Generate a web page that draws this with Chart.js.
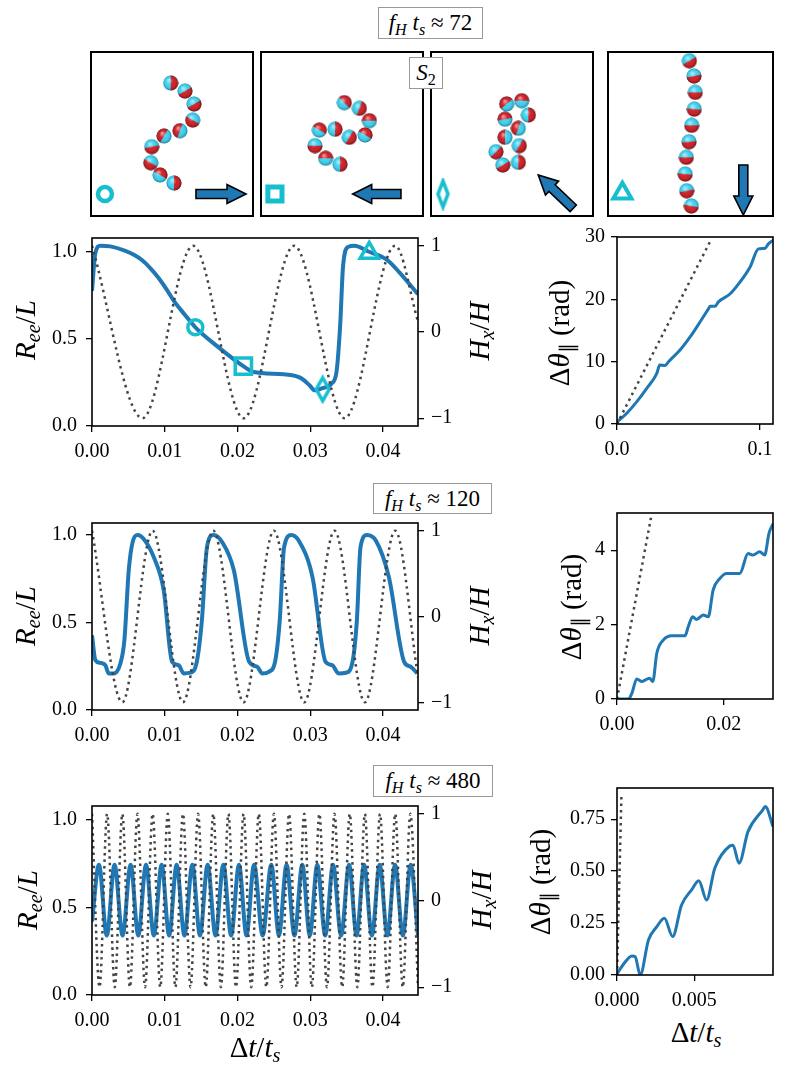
<!DOCTYPE html>
<html>
<head>
<meta charset="utf-8">
<script src="https://cdn.jsdelivr.net/npm/chart.js@4.4.0/dist/chart.umd.min.js"></script>
<style>
  body { margin: 0; background: #fff; width: 789px; height: 1079px; position: relative; overflow: hidden; font-family: 'Liberation Serif', serif; }
  canvas { position: absolute; }
  .lab { position: absolute; white-space: nowrap; font-size: 29px; transform: translate(-50%, -50%); line-height: 1; }
  .rot { transform: translate(-50%, -50%) rotate(-90deg); }
  .box { position: absolute; box-sizing: border-box; border: 1px solid #999; background: #fff; font-size: 23px;
         display: flex; align-items: center; justify-content: center; white-space: nowrap; z-index: 5; }
  sub { font-size: 0.7em; vertical-align: -0.28em; line-height: 0; }
</style>
</head>
<body>
<script>
// ---- data ----

// row 1, f_H t_s ~ 72
const r1T = [0, 0.00046, 0.00114, 0.0025, 0.0045, 0.0057, 0.0069, 0.008, 0.0091, 0.0102, 0.0112, 0.0127, 0.0142, 0.0171, 0.021, 0.0222, 0.0263, 0.0286, 0.0299, 0.0306, 0.0315, 0.0329, 0.0336, 0.0341, 0.0345, 0.0352, 0.0361, 0.0379, 0.0405, 0.0423, 0.0448];
const r1R = [0.776, 0.994, 1.036, 1.032, 1.008, 0.985, 0.952, 0.907, 0.853, 0.788, 0.722, 0.642, 0.567, 0.462, 0.338, 0.31, 0.297, 0.278, 0.234, 0.205, 0.215, 0.243, 0.31, 0.576, 0.918, 1.029, 1.036, 1.004, 0.956, 0.88, 0.757];
const h1T = [0, 0.00694, 0.01389, 0.02083, 0.02778, 0.03472, 0.04167, 0.0448];
const h1V = [1, -1, 1, -1, 1, -1, 1, 0.12];
const mark1T = [0.0142, 0.0208, 0.0317, 0.0381];
const mark1R = [0.567, 0.344, 0.211, 0.994];
const d1T = [0, 0.007, 0.014, 0.0209, 0.0279, 0.0298, 0.0337, 0.036, 0.0442, 0.0512, 0.0581, 0.064, 0.0651, 0.0686, 0.0709, 0.0791, 0.086, 0.093, 0.0988, 0.1035, 0.1058, 0.1093];
const d1V = [0.3, 1.76, 3.62, 5.75, 8.15, 9.48, 9.38, 10.0, 11.9, 14.0, 16.4, 18.5, 18.9, 18.9, 19.6, 20.9, 22.8, 25.2, 28.1, 28.2, 28.9, 29.5];
const f1T = [0, 0.0651];
const f1V = [0, 29.3];

// row 2, f_H t_s ~ 120
const r2T = [0, 0.00046, 0.00115, 0.00183, 0.00229, 0.00298, 0.0039, 0.00445, 0.00505, 0.00564, 0.00628, 0.00711, 0.00849, 0.00986, 0.011, 0.0119, 0.0126, 0.0135, 0.0144, 0.0151, 0.0158, 0.0167, 0.0179, 0.0195, 0.0216, 0.0227, 0.0234, 0.0243, 0.0252, 0.0258, 0.0264, 0.0274, 0.0284, 0.0303, 0.0321, 0.033, 0.0339, 0.0349, 0.0358, 0.0364, 0.0369, 0.0378, 0.039, 0.0408, 0.0429, 0.0438, 0.0447];
const r2R = [0.427, 0.285, 0.269, 0.256, 0.209, 0.209, 0.266, 0.398, 0.797, 0.968, 1.0, 0.977, 0.873, 0.683, 0.275, 0.256, 0.209, 0.213, 0.275, 0.512, 0.93, 1.0, 0.958, 0.797, 0.275, 0.247, 0.209, 0.218, 0.285, 0.512, 0.93, 1.0, 0.968, 0.759, 0.275, 0.256, 0.209, 0.213, 0.275, 0.512, 0.93, 1.0, 0.968, 0.759, 0.275, 0.247, 0.209];
const h2T = [0, 0.00417, 0.00833, 0.0125, 0.01667, 0.02083, 0.025, 0.02917, 0.03333, 0.0375, 0.04167, 0.0448];
const h2V = [1, -1, 1, -1, 1, -1, 1, -1, 1, -1, 1, -0.71];
const d2T = [0, 0.00217, 0.0028, 0.0037, 0.00466, 0.00609, 0.0067, 0.00745, 0.0087, 0.01025, 0.01273, 0.01335, 0.01416, 0.0149, 0.01615, 0.01708, 0.018, 0.01925, 0.0205, 0.02298, 0.02453, 0.02547, 0.02671, 0.02764, 0.02845, 0.02919];
const d2V = [0, 0, 0.16, 0.54, 0.47, 0.56, 0.47, 1.23, 1.59, 1.7, 1.7, 1.95, 2.21, 2.14, 2.26, 2.21, 2.93, 3.24, 3.375, 3.375, 3.91, 3.87, 3.96, 3.87, 4.45, 4.71];
const f2T = [0, 0.0065];
const f2V = [0, 4.98];

// row 3, f_H t_s ~ 480
const r3T = [0, 0.00096, 0.00203, 0.0031, 0.0042, 0.00531, 0.00636, 0.00742, 0.0085, 0.00957, 0.0106, 0.01163, 0.0127, 0.01379, 0.01484, 0.01589, 0.01697, 0.01805, 0.01912, 0.0202, 0.02123, 0.02227, 0.02345, 0.02464, 0.02569, 0.02674, 0.02782, 0.0289, 0.02993, 0.03096, 0.03205, 0.03313, 0.03423, 0.03533, 0.03636, 0.03739, 0.03846, 0.03953, 0.04059, 0.04165, 0.04272, 0.04379, 0.0448];
const r3R = [0.42, 0.745, 0.34, 0.745, 0.34, 0.745, 0.34, 0.745, 0.34, 0.745, 0.34, 0.745, 0.34, 0.745, 0.34, 0.745, 0.34, 0.745, 0.34, 0.745, 0.34, 0.745, 0.34, 0.745, 0.34, 0.745, 0.34, 0.745, 0.34, 0.745, 0.34, 0.745, 0.34, 0.745, 0.34, 0.745, 0.34, 0.745, 0.34, 0.745, 0.34, 0.745, 0.34];
const h3T = [0, 0.00104, 0.00208, 0.00313, 0.00417, 0.00521, 0.00625, 0.00729, 0.00833, 0.00938, 0.01042, 0.01146, 0.0125, 0.01354, 0.01458, 0.01563, 0.01667, 0.01771, 0.01875, 0.01979, 0.02083, 0.02188, 0.02292, 0.02396, 0.025, 0.02604, 0.02708, 0.02813, 0.02917, 0.03021, 0.03125, 0.03229, 0.03333, 0.03438, 0.03542, 0.03646, 0.0375, 0.03854, 0.03958, 0.04063, 0.04167, 0.04271, 0.04375, 0.0448];
const h3V = [1, -1, 1, -1, 1, -1, 1, -1, 1, -1, 1, -1, 1, -1, 1, -1, 1, -1, 1, -1, 1, -1, 1, -1, 1, -1, 1, -1, 1, -1, 1, -1, 1, -1, 1, -1, 1, -1, 1, -1, 1, -1, 1, -1];
const d3T = [0, 0.00043, 0.00097, 0.00118, 0.0015, 0.00204, 0.00258, 0.00307, 0.0036, 0.00418, 0.00483, 0.0053, 0.0058, 0.00633, 0.0073, 0.00751, 0.0079, 0.00848, 0.00944, 0.0096, 0.0101];
const d3V = [0.005, 0.053, 0.092, 0.088, 0.0, 0.169, 0.233, 0.273, 0.185, 0.337, 0.41, 0.454, 0.361, 0.514, 0.621, 0.625, 0.538, 0.69, 0.795, 0.811, 0.715];
const f3T = [0, 0.00029];
const f3V = [0, 0.875];

// tick labels
const leftXTicks = [0, 0.01, 0.02, 0.03, 0.04];
const leftYTicks = [0, 0.5, 1.0];
const hTicks = [-1, 0, 1];
const right1XTicks = [0, 0.1], right1YTicks = [0, 10, 20, 30];
const right2XTicks = [0, 0.02], right2YTicks = [0, 2, 4];
const right3XTicks = [0, 0.005], right3YTicks = [0, 0.25, 0.5, 0.75];

// snapshot panels: bead centres (0-100 frame units) and orientation of the red half (deg)
const p1X = [49.2, 58.0, 63.6, 62.8, 54.9, 45.1, 37.5, 36.9, 42.6, 51.2];
const p1Y = [81.1, 76.2, 68.3, 58.5, 52.0, 48.8, 42.3, 32.5, 25.0, 20.1];
const p1A = [0, 60, 60, 120, 200, 210, 80, 120, 300, 0];
const p2X = [51.4, 60.7, 66.9, 64.2, 54.5, 45.7, 36.0, 33.3, 39.9, 48.8];
const p2Y = [69.1, 65.7, 58.1, 49.4, 48.0, 52.9, 52.4, 42.9, 35.2, 31.5];
const p2A = [315, 20, 270, 300, 30, 0, 300, 90, 270, 0];
const p3X = [46.7, 56.0, 60.1, 53.9, 45.7, 45.7, 54.5, 53.9, 44.3, 40.1];
const p3Y = [68.3, 70.3, 61.6, 53.5, 59.0, 48.0, 42.9, 32.7, 31.1, 39.2];
const p3A = [230, 270, 0, 200, 260, 180, 30, 0, 60, 45];
const p4X = [49.3, 52.1, 52.9, 52.3, 50.7, 49.1, 47.5, 46.8, 47.7, 50.5];
const p4Y = [94.7, 85.4, 75.4, 65.2, 55.3, 45.3, 35.8, 25.6, 15.4, 6.1];
const p4A = [60, 80, 90, 95, 90, 85, 90, 95, 80, 100];
// field arrows (tail -> head) and marker spot in each panel
const arrowFrom = [[64.8, 13.4], [86.4, 13.4], [87.8, 4.7], [82, 31.1]];
const arrowTo   = [[95.7, 13.4], [56.6, 13.4], [66.2, 25.0], [82, 0.6]];
const iconX = [8.6, 8.6, 7.4, 8.7];
const iconY = [13.4, 13.4, 13.4, 13.8];

// ---- helpers ----
const BLUE = '#1f77b4', CYAN = '#17becf', GREY = '#444';
const FONT = 'Liberation Serif';

function pts(xs, ys) { return xs.map((x, i) => ({ x: x, y: ys[i] })); }

function makeCanvas(left, top, w, h) {
  const c = document.createElement('canvas');
  c.width = w; c.height = h;
  c.style.left = left + 'px'; c.style.top = top + 'px';
  c.style.width = w + 'px'; c.style.height = h + 'px';
  document.body.appendChild(c);
  return c;
}

function addLabel(html, x, y, rot, size) {
  const d = document.createElement('div');
  d.className = 'lab' + (rot ? ' rot' : '');
  d.style.left = x + 'px'; d.style.top = y + 'px';
  if (size) d.style.fontSize = size + 'px';
  d.innerHTML = html;
  document.body.appendChild(d);
}

function addBox(html, l, t, w, h, size) {
  const d = document.createElement('div');
  d.className = 'box';
  d.style.left = l + 'px'; d.style.top = t + 'px';
  d.style.width = w + 'px'; d.style.height = h + 'px';
  if (size) d.style.fontSize = size + 'px';
  d.innerHTML = '<span>' + html + '</span>';
  document.body.appendChild(d);
}

function sphere(deg) {
  const s = 16, c = document.createElement('canvas');
  c.width = s; c.height = s;
  const g = c.getContext('2d'), r = 7.5, a = deg * Math.PI / 180;
  g.beginPath(); g.arc(s / 2, s / 2, r, 0, 2 * Math.PI); g.clip();
  g.fillStyle = '#3fd3f2'; g.fillRect(0, 0, s, s);
  g.fillStyle = '#cf2228';
  g.beginPath(); g.moveTo(s / 2, s / 2);
  g.arc(s / 2, s / 2, r + 1, a - Math.PI / 2, a + Math.PI / 2); g.closePath(); g.fill();
  const sh = g.createRadialGradient(s * 0.38, s * 0.32, 0.5, s / 2, s / 2, r);
  sh.addColorStop(0, 'rgba(255,255,255,0.55)');
  sh.addColorStop(0.45, 'rgba(255,255,255,0)');
  sh.addColorStop(0.8, 'rgba(0,0,0,0.1)');
  sh.addColorStop(1, 'rgba(0,0,0,0.4)');
  g.fillStyle = sh; g.fillRect(0, 0, s, s);
  return c;
}

function diamond(w, h, lw) {
  const c = document.createElement('canvas');
  c.width = w + 2 * lw; c.height = h + 2 * lw;
  const g = c.getContext('2d'), cx = c.width / 2, cy = c.height / 2;
  g.beginPath();
  g.moveTo(cx, cy - h / 2); g.lineTo(cx + w / 2, cy); g.lineTo(cx, cy + h / 2); g.lineTo(cx - w / 2, cy);
  g.closePath();
  g.lineWidth = lw; g.strokeStyle = CYAN; g.stroke();
  return c;
}

const framePlugin = {
  id: 'frame',
  afterDraw(chart, args, o) {
    const a = chart.chartArea, g = chart.ctx;
    g.save();
    g.lineWidth = (o && o.lw) || 1.6; g.strokeStyle = '#000';
    g.strokeRect(a.left, a.top, a.right - a.left, a.bottom - a.top);
    g.restore();
  }
};

const arrowPlugin = {
  id: 'arrow',
  afterDatasetsDraw(chart, args, o) {
    if (!o || !o.from) return;
    const sx = chart.scales.x, sy = chart.scales.y, g = chart.ctx;
    const x0 = sx.getPixelForValue(o.from[0]), y0 = sy.getPixelForValue(o.from[1]);
    const x1 = sx.getPixelForValue(o.to[0]), y1 = sy.getPixelForValue(o.to[1]);
    const L = Math.hypot(x1 - x0, y1 - y0), hl = 19, hw = 9.5, sw = 4.5;
    g.save();
    g.translate(x0, y0); g.rotate(Math.atan2(y1 - y0, x1 - x0));
    g.beginPath();
    g.moveTo(0, -sw); g.lineTo(L - hl, -sw); g.lineTo(L - hl, -hw); g.lineTo(L, 0);
    g.lineTo(L - hl, hw); g.lineTo(L - hl, sw); g.lineTo(0, sw); g.closePath();
    g.fillStyle = BLUE; g.fill();
    g.lineWidth = 1.6; g.strokeStyle = '#000'; g.lineJoin = 'miter'; g.stroke();
    g.restore();
  }
};

function fmtMinus(v) { return v < 0 ? '\u2212' + Math.abs(v) : String(v); }

function axis(pos, min, max, ticks, size, fmt, pad) {
  return {
    type: 'linear', position: pos, min: min, max: max,
    afterBuildTicks: s => { s.ticks = ticks.map(v => ({ value: v })); },
    afterFit: s => { if (pos === 'bottom') s.height = size; else s.width = size; },
    grid: { drawOnChartArea: false, drawTicks: true, tickLength: 6, color: '#000', lineWidth: 1.3 },
    border: { display: false },
    ticks: { color: '#000', font: { family: FONT, size: 20 }, padding: pad, maxRotation: 0, autoSkip: false,
             callback: v => fmt(v) }
  };
}

function baseOptions(padTop, padRight) {
  return {
    responsive: false, animation: false, events: [],
    layout: { autoPadding: false, padding: { top: padTop, right: padRight, left: 0, bottom: 0 } },
    plugins: { legend: { display: false }, tooltip: { enabled: false } }
  };
}

function dotted(t, v, axisId) {
  return { data: pts(t, v), yAxisID: axisId, borderColor: GREY, borderWidth: 2.5, borderDash: [2.5, 4],
           borderCapStyle: 'butt', pointRadius: 0, cubicInterpolationMode: 'monotone', fill: false };
}
function solid(t, v, axisId, lw) {
  return { data: pts(t, v), yAxisID: axisId, borderColor: BLUE, borderWidth: lw, pointRadius: 0,
           borderJoinStyle: 'round', cubicInterpolationMode: 'monotone', fill: false };
}

// left panels: R_ee/L with H_x/H on a twin axis
function leftChart(plot, rT, rR, hT, hV, yMax, marks) {
  const left = 0, top = plot.t - 20, w = 480, h = plot.b - top + 40;
  const cv = makeCanvas(left, top, w, h);
  const datasets = [dotted(hT, hV, 'y1')];
  if (marks) datasets.push(marks);
  datasets.push(solid(rT, rR, 'y', 4));
  const opt = baseOptions(20, 0);
  opt.scales = {
    x: axis('bottom', 0, 0.0448, leftXTicks, 40, v => v.toFixed(2), 8),
    y: axis('left', 0, yMax, leftYTicks, plot.l - left, v => v.toFixed(1), 9),
    y1: axis('right', -1.09, 1.09, hTicks, left + w - plot.r, fmtMinus, 7)
  };
  new Chart(cv, { type: 'line', data: { datasets: datasets }, options: opt, plugins: [framePlugin] });
}

// right panels: accumulated angle
function rightChart(plot, dT, dV, fT, fV, xMax, yMax, xTicks, yTicks, xDec, yDec) {
  const left = 500, top = plot.t - 20, w = 289, h = plot.b - top + 40;
  const cv = makeCanvas(left, top, w, h);
  const opt = baseOptions(20, left + w - plot.r);
  opt.scales = {
    x: axis('bottom', 0, xMax, xTicks, 40, v => v.toFixed(xDec), 8),
    y: axis('left', 0, yMax, yTicks, plot.l - left, v => v.toFixed(yDec), 6)
  };
  new Chart(cv, { type: 'line', data: { datasets: [dotted(fT, fV, 'y'), solid(dT, dV, 'y', 3)] },
                  options: opt, plugins: [framePlugin] });
}

// snapshot panels
function snapChart(k, box, sx, sy, ang, icon) {
  const cv = makeCanvas(box.l - 2, box.t - 2, box.r - box.l + 4, box.b - box.t + 4);
  const opt = baseOptions(2, 2);
  opt.layout.padding = 2;
  opt.scales = {
    x: { type: 'linear', display: false, min: 0, max: 100 },
    y: { type: 'linear', display: false, min: 0, max: 100 }
  };
  opt.plugins.frame = { lw: 2 };
  opt.plugins.arrow = { from: arrowFrom[k], to: arrowTo[k] };
  new Chart(cv, {
    type: 'scatter',
    data: { datasets: [
      { data: pts(sx, sy), pointStyle: ang.map(sphere), pointRadius: 8, clip: false },
      { data: [{ x: iconX[k], y: iconY[k] }], pointStyle: icon.style, pointRadius: icon.r,
        pointBorderWidth: icon.lw, pointBorderColor: CYAN, pointBackgroundColor: 'rgba(0,0,0,0)' }
    ] },
    options: opt, plugins: [framePlugin, arrowPlugin]
  });
}

// ---- build ----
const thinDiamond = diamond(13, 23, 3.5);
leftChart({ l: 92, r: 418, t: 237, b: 426 }, r1T, r1R, h1T, h1V, 1.08, {
  data: pts(mark1T, mark1R), yAxisID: 'y', showLine: false,
  pointStyle: ['circle', 'rect', thinDiamond, 'triangle'], pointRadius: [7.5, 11.5, 10, 10.5],
  pointBorderWidth: 3.5, pointBorderColor: CYAN, pointBackgroundColor: 'rgba(0,0,0,0)'
});
leftChart({ l: 92, r: 418, t: 522, b: 710 }, r2T, r2R, h2T, h2V, 1.068, null);
leftChart({ l: 92, r: 418, t: 805, b: 995 }, r3T, r3R, h3T, h3V, 1.08, null);

rightChart({ l: 617, r: 773, t: 237, b: 424 }, d1T, d1V, f1T, f1V, 0.109, 30, right1XTicks, right1YTicks, 1, 0);
rightChart({ l: 617, r: 773, t: 513, b: 699 }, d2T, d2V, f2T, f2V, 0.0292, 5, right2XTicks, right2YTicks, 2, 0);
rightChart({ l: 617, r: 773, t: 788, b: 975 }, d3T, d3V, f3T, f3V, 0.0101, 0.9, right3XTicks, right3YTicks, 3, 2);

snapChart(0, { l: 91, r: 253, t: 52, b: 216 }, p1X, p1Y, p1A, { style: 'circle', r: 7, lw: 4.5 });
snapChart(1, { l: 261, r: 423, t: 52, b: 216 }, p2X, p2Y, p2A, { style: 'rect', r: 10, lw: 5 });
snapChart(2, { l: 431, r: 593, t: 52, b: 216 }, p3X, p3Y, p3A, { style: diamond(10, 26, 3.5), r: 10, lw: 0 });
snapChart(3, { l: 608, r: 773, t: 52, b: 216 }, p4X, p4Y, p4A, { style: 'triangle', r: 10.5, lw: 4 });

// ---- text ----
const ree = '<i>R</i><sub><i>ee</i></sub>/<i>L</i>';
const hx = '<i>H</i><sub><i>x</i></sub>/<i>H</i>';
const dth = '\u0394<i>\u03b8</i><sub>\u2225</sub> (rad)';
const dt = '\u0394<i>t</i>/<i>t</i><sub><i>s</i></sub>';
addLabel(ree, 25, 330, true); addLabel(hx, 479, 331, true); addLabel(dth, 559, 333, true);
addLabel(ree, 25, 616, true); addLabel(hx, 479, 616, true); addLabel(dth, 571, 607, true);
addLabel(ree, 27, 900, true); addLabel(hx, 481, 900, true); addLabel(dth, 540, 882, true);
addLabel(dt, 255, 1047, false); addLabel(dt, 696, 1032, false);

addBox('<i>f</i><sub><i>H</i></sub> <i>t</i><sub><i>s</i></sub> \u2248 72', 378, 7, 105, 32);
addBox('<i>f</i><sub><i>H</i></sub> <i>t</i><sub><i>s</i></sub> \u2248 120', 373, 483, 119, 31);
addBox('<i>f</i><sub><i>H</i></sub> <i>t</i><sub><i>s</i></sub> \u2248 480', 373, 765, 120, 32);
addBox('<i>S</i><sub>2</sub>', 409, 57, 34, 32);
</script>
</body>
</html>
